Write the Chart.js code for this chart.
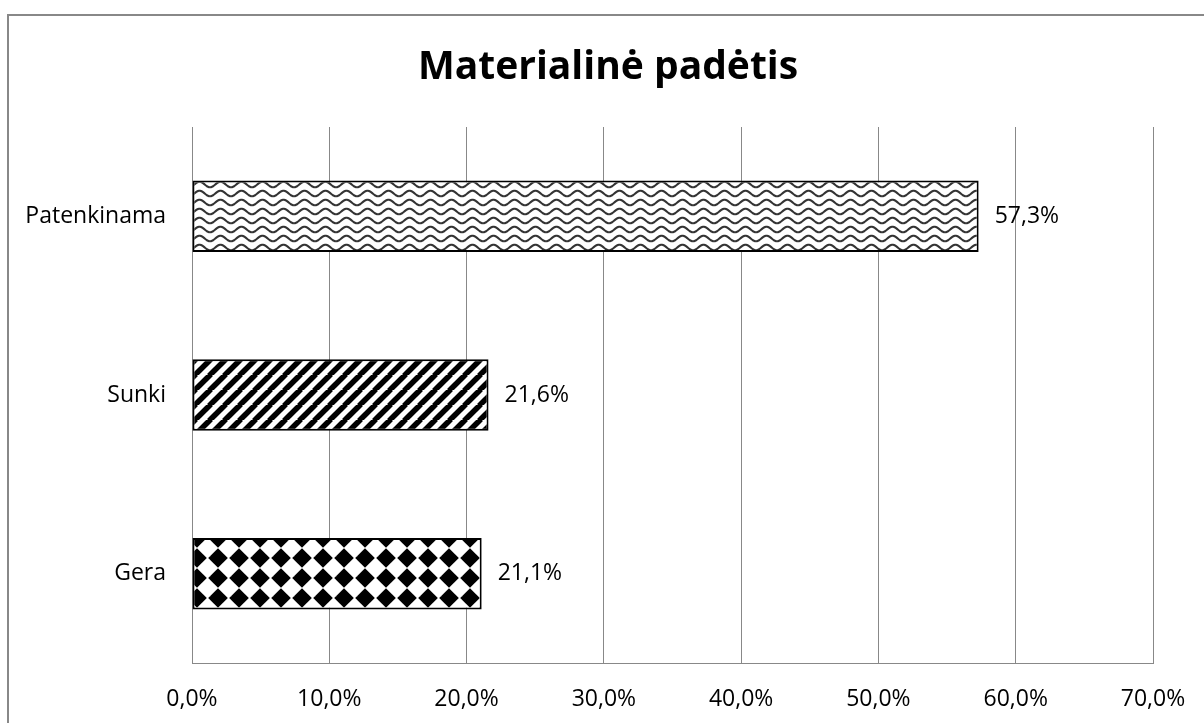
<!DOCTYPE html>
<html>
<head>
<meta charset="utf-8">
<script src="https://cdn.jsdelivr.net/npm/chart.js@4/dist/chart.umd.min.js"></script>
<style>
  body { margin: 0; background: #fff; }
  #wrap { position: relative; width: 1204px; height: 723px; }
</style>
</head>
<body>
<div id="wrap"><canvas id="chart" width="1204" height="723"></canvas></div>
<script>
const categories = ["Patenkinama", "Sunki", "Gera"];
const values = [57.3, 21.6, 21.1];
const tickValues = [0, 10, 20, 30, 40, 50, 60, 70];
const chartTitle = "Materialinė padėtis";

const FONT = "'Open Sans', sans-serif";

function fmt(v) {
  return v.toFixed(1).replace(".", ",") + "%";
}

// wave pattern
function wavePattern() {
  const w = 21, h = 9;
  const c = document.createElement("canvas");
  c.width = w; c.height = h;
  const g = c.getContext("2d");
  g.fillStyle = "#fff";
  g.fillRect(0, 0, w, h);
  g.strokeStyle = "#333";
  g.lineWidth = 2.1;
  for (let oy = -h; oy <= h; oy += h) {
    g.beginPath();
    for (let x = 0; x <= w; x++) {
      const y = oy + 4.5 + 2.8 * Math.cos((x / w) * Math.PI * 2);
      if (x === 0) g.moveTo(x, y); else g.lineTo(x, y);
    }
    g.stroke();
  }
  return g.createPattern(c, "repeat");
}

function stripePattern() {
  const s = 15;
  const c = document.createElement("canvas");
  c.width = s; c.height = s;
  const g = c.getContext("2d");
  g.fillStyle = "#fff";
  g.fillRect(0, 0, s, s);
  g.strokeStyle = "#000";
  g.lineWidth = 5.5;
  for (let k = -1; k <= 1; k++) {
    g.beginPath();
    g.moveTo(k * s - 1, s + 1);
    g.lineTo(k * s + s + 1, -1);
    g.stroke();
  }
  return g.createPattern(c, "repeat");
}

function diamondPattern() {
  const w = 21, h = 20;
  const c = document.createElement("canvas");
  c.width = w; c.height = h;
  const g = c.getContext("2d");
  g.fillStyle = "#fff";
  g.fillRect(0, 0, w, h);
  g.fillStyle = "#000";
  const r = 9.8;
  for (let dx = -w; dx <= w; dx += w) {
    for (let dy = -h; dy <= h; dy += h) {
      const cx = 8 + dx, cy = 18 + dy;
      g.beginPath();
      g.moveTo(cx, cy - r);
      g.lineTo(cx + r, cy);
      g.lineTo(cx, cy + r);
      g.lineTo(cx - r, cy);
      g.closePath();
      g.fill();
    }
  }
  return g.createPattern(c, "repeat");
}

const fills = [wavePattern(), stripePattern(), diamondPattern()];

const decor = {
  id: "decor",
  beforeDraw(chart) {
    const ctx = chart.ctx;
    ctx.save();
    ctx.fillStyle = "#fff";
    ctx.fillRect(0, 0, chart.width, chart.height);
    ctx.strokeStyle = "#888";
    ctx.lineWidth = 2;
    ctx.strokeRect(8, 15, 1300, 800);
    ctx.restore();
  },
  afterDatasetsDraw(chart) {
    const ctx = chart.ctx;
    const meta = chart.getDatasetMeta(0);
    ctx.save();
    ctx.font = "23px " + FONT;
    ctx.fillStyle = "#000";
    ctx.textBaseline = "middle";
    ctx.textAlign = "left";
    meta.data.forEach((bar, i) => {
      ctx.fillText(fmt(values[i]), bar.x + 16, bar.y);
    });
    ctx.font = "bold 39px " + FONT;
    ctx.textAlign = "center";
    ctx.textBaseline = "alphabetic";
    ctx.fillText(chartTitle, 608, 79);
    ctx.restore();
  }
};

new Chart(document.getElementById("chart"), {
  type: "bar",
  data: {
    labels: categories,
    datasets: [{
      data: values,
      backgroundColor: fills,
      borderColor: "#000",
      borderWidth: 2,
      borderSkipped: false,
      categoryPercentage: 1,
      barPercentage: 0.4
    }]
  },
  options: {
    indexAxis: "y",
    responsive: false,
    animation: false,
    layout: { padding: { top: 127, right: 51, left: 0, bottom: 0 } },
    plugins: { legend: { display: false }, tooltip: { enabled: false } },
    scales: {
      x: {
        min: 0, max: 70,
        afterBuildTicks(scale) {
          scale.ticks = tickValues.map(v => ({ value: v }));
        },
        afterFit(scale) {
          scale.height = 60;
          scale.paddingLeft = 0;
          scale.paddingRight = 0;
        },
        grid: { color: "#888", lineWidth: 1, drawTicks: false },
        border: { color: "#888", width: 1 },
        ticks: {
          padding: 23,
          color: "#000",
          font: { family: FONT, size: 23 },
          callback: v => fmt(v)
        }
      },
      y: {
        afterFit(scale) {
          scale.width = 192;
          scale.paddingTop = 0;
          scale.paddingBottom = 0;
        },
        grid: { display: false, drawTicks: false },
        border: { color: "#888", width: 1 },
        ticks: {
          padding: 26,
          color: "#000",
          font: { family: FONT, size: 23 }
        }
      }
    }
  },
  plugins: [decor]
});
</script>
</body>
</html>
